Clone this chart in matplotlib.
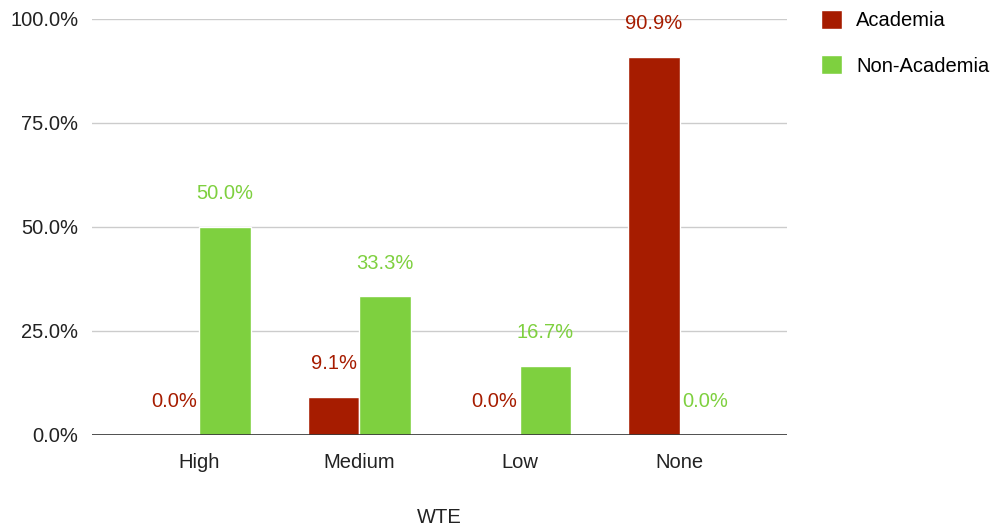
import matplotlib.pyplot as plt
from matplotlib.ticker import FuncFormatter
import numpy as np

plt.rcParams['font.family'] = ['Liberation Sans', 'DejaVu Sans']

categories = ["High", "Medium", "Low", "None"]
academia = [0.0, 9.1, 0.0, 90.9]
non_academia = [50.0, 33.3, 16.7, 0.0]
series_names = ["Academia", "Non-Academia"]
colors = ["#a61c00", "#7ed03f"]

fs = 14.5

fig = plt.figure(figsize=(9.97, 5.27), dpi=100)
ax = fig.add_axes([0.0923, 0.1746, 0.6971, 0.7894])

x = np.arange(len(categories))
w = 0.32
for i, (vals, name, col) in enumerate(zip([academia, non_academia], series_names, colors)):
    xs = x + (i - 0.5) * w
    ax.bar(xs, vals, width=w, color=col, edgecolor="white", linewidth=1, label=name, zorder=3)
    for xi, v in zip(xs, vals):
        ax.annotate(f"{v:.1f}%", (xi, v), xytext=(0, 24), textcoords="offset points",
                    ha="center", va="center", color=col, fontsize=fs)

ax.set_xlim(-0.67, 3.67)
ax.set_ylim(0, 100)
ax.set_yticks([0, 25, 50, 75, 100])
ax.yaxis.set_major_formatter(FuncFormatter(lambda v, p: f"{v:.1f}%"))
ax.set_xticks(x)
ax.set_xticklabels(categories)
ax.tick_params(length=0, labelsize=fs, colors="#222222")
ax.tick_params(axis="y", pad=10)
ax.tick_params(axis="x", pad=13)
ax.grid(axis="y", color="#cccccc", linewidth=1, zorder=0)
ax.axhline(0, color="#333333", linewidth=1.2, zorder=4)
for s in ax.spines.values():
    s.set_visible(False)
ax.set_xlabel("WTE", fontsize=fs, color="#222222", labelpad=26)

ax.legend(loc="upper left", bbox_to_anchor=(1.023, 1.065), frameon=False, fontsize=fs,
          handlelength=1.05, handleheight=1.05, labelspacing=1.25, handletextpad=0.7)

fig.savefig("out.png", dpi=100)
